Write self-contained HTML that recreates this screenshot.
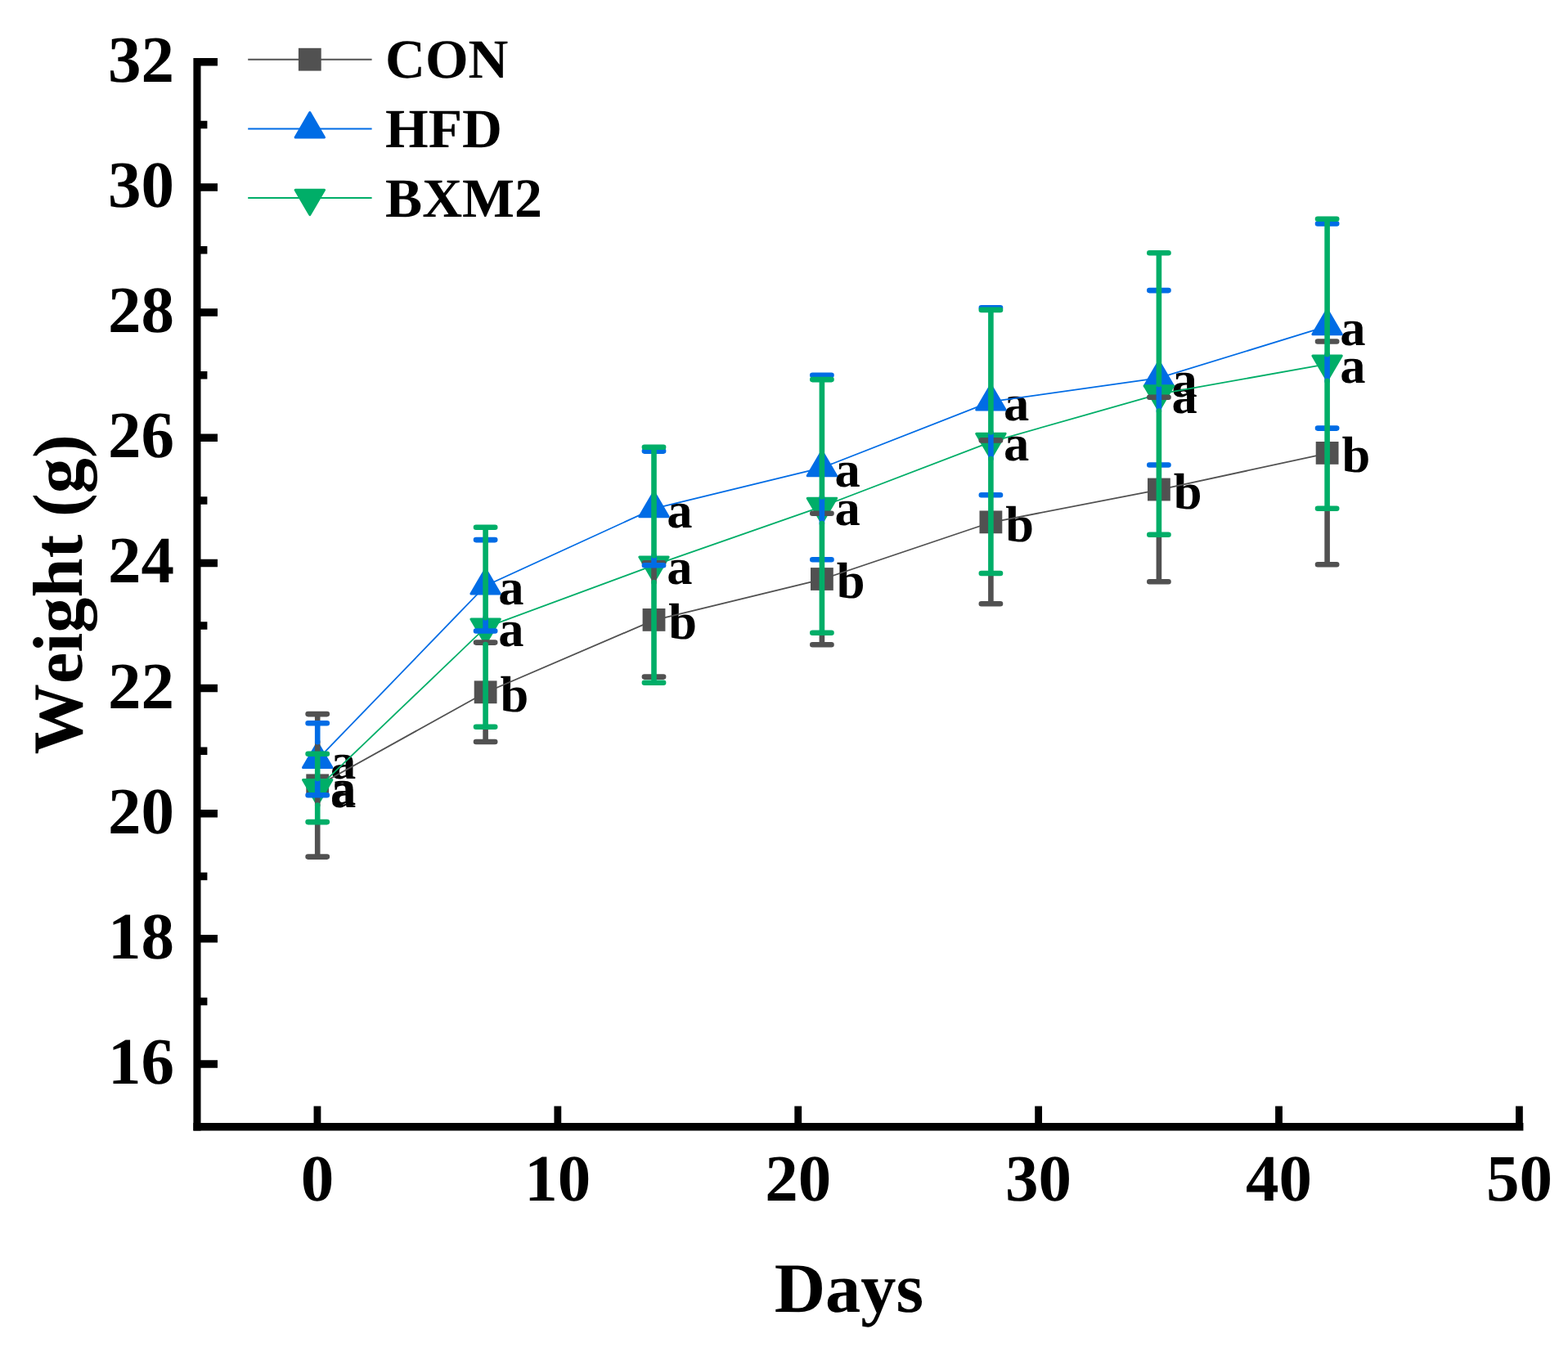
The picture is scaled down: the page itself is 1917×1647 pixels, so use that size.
<!DOCTYPE html>
<html lang="en"><head><meta charset="utf-8"><title>Weight (g) vs Days</title>
<style>html,body{margin:0;padding:0;background:#fff}body{width:1917px;height:1647px;overflow:hidden}svg{display:block}text{font-family:"Liberation Serif","Times New Roman",serif;font-weight:bold;fill:#000;font-kerning:none;font-variant-ligatures:none;text-rendering:geometricPrecision}</style></head><body>
<svg width="1917" height="1647" viewBox="0 0 1917 1647">
<rect width="1917" height="1647" fill="#fff"/>
<g font-size="62.5">
<text x="403.9" y="983.75">a</text>
<text x="611.4" y="869.7">b</text>
<text x="817.3" y="781.3">b</text>
<text x="1022.7" y="731.4">b</text>
<text x="1229.2" y="661.75">b</text>
<text x="1434.7" y="621.9">b</text>
<text x="1640.4" y="577.3">b</text>
<text x="403.9" y="951.7">a</text>
<text x="609.3" y="739.2">a</text>
<text x="815.2" y="644.85">a</text>
<text x="1020.6" y="594.95">a</text>
<text x="1227.1" y="514.2">a</text>
<text x="1432.6" y="485.2">a</text>
<text x="1638.3" y="421.95">a</text>
<text x="403.9" y="986.8">a</text>
<text x="609.3" y="790.2">a</text>
<text x="815.2" y="714.2">a</text>
<text x="1020.6" y="642.35">a</text>
<text x="1227.1" y="563.35">a</text>
<text x="1432.6" y="504.9">a</text>
<text x="1638.3" y="468.15">a</text>
</g>
<polyline points="388.2,960.75 593.6,846.7 799.5,758.3 1004.9,708.4 1211.4,638.75 1416.9,598.9 1622.6,554.3" fill="none" stroke="#515151" stroke-width="1.8"/>
<rect x="374.3" y="946.45" width="27.8" height="27.8" fill="#515151"/>
<rect x="579.7" y="832.4" width="27.8" height="27.8" fill="#515151"/>
<rect x="785.6" y="744" width="27.8" height="27.8" fill="#515151"/>
<rect x="991" y="694.1" width="27.8" height="27.8" fill="#515151"/>
<rect x="1197.5" y="624.45" width="27.8" height="27.8" fill="#515151"/>
<rect x="1403" y="584.6" width="27.8" height="27.8" fill="#515151"/>
<rect x="1608.7" y="540" width="27.8" height="27.8" fill="#515151"/>
<polyline points="388.2,928.7 593.6,716.2 799.5,621.85 1004.9,571.95 1211.4,491.2 1416.9,462.2 1622.6,398.95" fill="none" stroke="#006CE5" stroke-width="1.8"/>
<polygon points="388.2,908.3 405.9,938.6 370.5,938.6" fill="#006CE5" stroke="#006CE5" stroke-width="3" stroke-linejoin="round"/>
<polygon points="593.6,695.8 611.3,726.1 575.9,726.1" fill="#006CE5" stroke="#006CE5" stroke-width="3" stroke-linejoin="round"/>
<polygon points="799.5,601.45 817.2,631.75 781.8,631.75" fill="#006CE5" stroke="#006CE5" stroke-width="3" stroke-linejoin="round"/>
<polygon points="1004.9,551.55 1022.6,581.85 987.2,581.85" fill="#006CE5" stroke="#006CE5" stroke-width="3" stroke-linejoin="round"/>
<polygon points="1211.4,470.8 1229.1,501.1 1193.7,501.1" fill="#006CE5" stroke="#006CE5" stroke-width="3" stroke-linejoin="round"/>
<polygon points="1416.9,441.8 1434.6,472.1 1399.2,472.1" fill="#006CE5" stroke="#006CE5" stroke-width="3" stroke-linejoin="round"/>
<polygon points="1622.6,378.55 1640.3,408.85 1604.9,408.85" fill="#006CE5" stroke="#006CE5" stroke-width="3" stroke-linejoin="round"/>
<polyline points="388.2,963.8 593.6,767.2 799.5,691.2 1004.9,619.35 1211.4,540.35 1416.9,481.9 1622.6,445.15" fill="none" stroke="#00AE68" stroke-width="1.8"/>
<polygon points="388.2,983.9 405.9,953.6 370.5,953.6" fill="#00AE68" stroke="#00AE68" stroke-width="3" stroke-linejoin="round"/>
<polygon points="593.6,787.3 611.3,757 575.9,757" fill="#00AE68" stroke="#00AE68" stroke-width="3" stroke-linejoin="round"/>
<polygon points="799.5,711.3 817.2,681 781.8,681" fill="#00AE68" stroke="#00AE68" stroke-width="3" stroke-linejoin="round"/>
<polygon points="1004.9,639.45 1022.6,609.15 987.2,609.15" fill="#00AE68" stroke="#00AE68" stroke-width="3" stroke-linejoin="round"/>
<polygon points="1211.4,560.45 1229.1,530.15 1193.7,530.15" fill="#00AE68" stroke="#00AE68" stroke-width="3" stroke-linejoin="round"/>
<polygon points="1416.9,502 1434.6,471.7 1399.2,471.7" fill="#00AE68" stroke="#00AE68" stroke-width="3" stroke-linejoin="round"/>
<polygon points="1622.6,465.25 1640.3,434.95 1604.9,434.95" fill="#00AE68" stroke="#00AE68" stroke-width="3" stroke-linejoin="round"/>
<g stroke="#515151" stroke-width="6.6" stroke-linecap="round" fill="none">
<path d="M376.6 873.1H399.8M376.6 1047.6H399.8M388.2 873.1V884.3M388.2 907.15V921.7M388.2 976.65V984.55M388.2 1005.1V1047.6"/>
<path d="M582 785.6H605.2M582 907H605.2M593.6 785.6V787.95M593.6 888.8V907"/>
<path d="M787.9 688.2H811.1M787.9 827.6H811.1M799.5 691.3V711.95"/>
<path d="M993.3 627.7H1016.5M993.3 788.3H1016.5M1004.9 773.8V788.3"/>
<path d="M1199.8 538.4H1223M1199.8 738.3H1223M1211.4 701V738.3"/>
<path d="M1405.3 485.8H1428.5M1405.3 711.2H1428.5M1416.9 653.7V711.2"/>
<path d="M1611 417.5H1634.2M1611 690.3H1634.2M1622.6 621.8V690.3"/>
</g>
<g stroke="#006CE5" stroke-width="6.6" stroke-linecap="round" fill="none">
<path d="M376.6 884.3H399.8M376.6 972.3H399.8M388.2 884.3V907.15M388.2 951.95V972.3"/>
<path d="M582 660.1H605.2M582 771.5H605.2M593.6 755.35V771.5"/>
<path d="M787.9 551.6H811.1M787.9 691.3H811.1M799.5 679.35V691.3"/>
<path d="M993.3 458.8H1016.5M993.3 684.3H1016.5M1004.9 458.8V464.1M1004.9 607.5V640.1"/>
<path d="M1199.8 376.4H1223M1199.8 605.2H1223M1211.4 376.4V378.9M1211.4 528.5V561.1"/>
<path d="M1405.3 355.1H1428.5M1405.3 568.5H1428.5M1416.9 473.25V502.65"/>
<path d="M1611 273.5H1634.2M1611 523.6H1634.2M1622.6 433.3V465.9"/>
</g>
<g stroke="#00AE68" stroke-width="6.6" stroke-linecap="round" fill="none">
<path d="M376.6 921.7H399.8M376.6 1005.1H399.8M388.2 921.7V951.95M388.2 984.55V1005.1"/>
<path d="M582 644.8H605.2M582 888.8H605.2M593.6 644.8V755.35M593.6 787.95V888.8"/>
<path d="M787.9 546.8H811.1M787.9 834.8H811.1M799.5 546.8V679.35M799.5 711.95V834.8"/>
<path d="M993.3 464.1H1016.5M993.3 773.8H1016.5M1004.9 464.1V607.5M1004.9 640.1V773.8"/>
<path d="M1199.8 378.9H1223M1199.8 701H1223M1211.4 378.9V528.5M1211.4 561.1V701"/>
<path d="M1405.3 309.3H1428.5M1405.3 653.7H1428.5M1416.9 309.3V470.05M1416.9 502.65V653.7"/>
<path d="M1611 267.7H1634.2M1611 621.8H1634.2M1622.6 267.7V433.3M1622.6 465.9V621.8"/>
</g>
<g stroke="#000" fill="none">
<path stroke-width="9.1" d="M240.95 71V1382.5"/>
<path stroke-width="9.5" d="M236.4 1377.75H1862.4"/>
<path stroke-width="9.5" d="M241 1301H266M241 1147.85H266M241 994.7H266M241 841.55H266M241 688.4H266M241 535.25H266M241 382.1H266M241 228.95H266M241 75.8H266M241 1224.58H253.4M241 1071.43H253.4M241 918.27H253.4M241 765.12H253.4M241 611.97H253.4M241 458.82H253.4M241 305.68H253.4M241 152.53H253.4"/>
<path stroke-width="8.8" d="M387.95 1377.75V1352.4M681.84 1377.75V1352.4M975.73 1377.75V1352.4M1269.62 1377.75V1352.4M1563.51 1377.75V1352.4M1857.4 1377.75V1352.4"/>
</g>
<g font-size="81" text-anchor="end">
<text x="213" y="1325">16</text>
<text x="213" y="1171.85">18</text>
<text x="213" y="1018.7">20</text>
<text x="213" y="865.55">22</text>
<text x="213" y="712.4">24</text>
<text x="213" y="559.25">26</text>
<text x="213" y="406.1">28</text>
<text x="213" y="252.95">30</text>
<text x="213" y="99.8">32</text>
</g>
<g font-size="81" text-anchor="middle">
<text x="387.95" y="1467.5">0</text>
<text x="681.84" y="1467.5">10</text>
<text x="975.73" y="1467.5">20</text>
<text x="1269.62" y="1467.5">30</text>
<text x="1563.51" y="1467.5">40</text>
<text x="1857.4" y="1467.5">50</text>
</g>
<text x="1037.9" y="1604" font-size="86.4" text-anchor="middle">Days</text>
<text transform="translate(100.2 726.9) rotate(-90)" font-size="86.4" text-anchor="middle">Weight (g)</text>
<path d="M303.2 72.7H454.6" stroke="#515151" stroke-width="2"/>
<rect x="364.9" y="58.8" width="27.8" height="27.8" fill="#515151"/>
<text x="471" y="95" font-size="67.7">CON</text>
<path d="M303.2 157.6H454.6" stroke="#006CE5" stroke-width="2"/>
<polygon points="378.8,137.6 396.5,167.9 361.1,167.9" fill="#006CE5" stroke="#006CE5" stroke-width="3" stroke-linejoin="round"/>
<text x="471" y="179.9" font-size="67.7">HFD</text>
<path d="M303.2 242.1H454.6" stroke="#00AE68" stroke-width="2"/>
<polygon points="378.8,262.6 396.5,232.3 361.1,232.3" fill="#00AE68" stroke="#00AE68" stroke-width="3" stroke-linejoin="round"/>
<text x="471" y="264.7" font-size="67.7">BXM2</text>
</svg></body></html>
